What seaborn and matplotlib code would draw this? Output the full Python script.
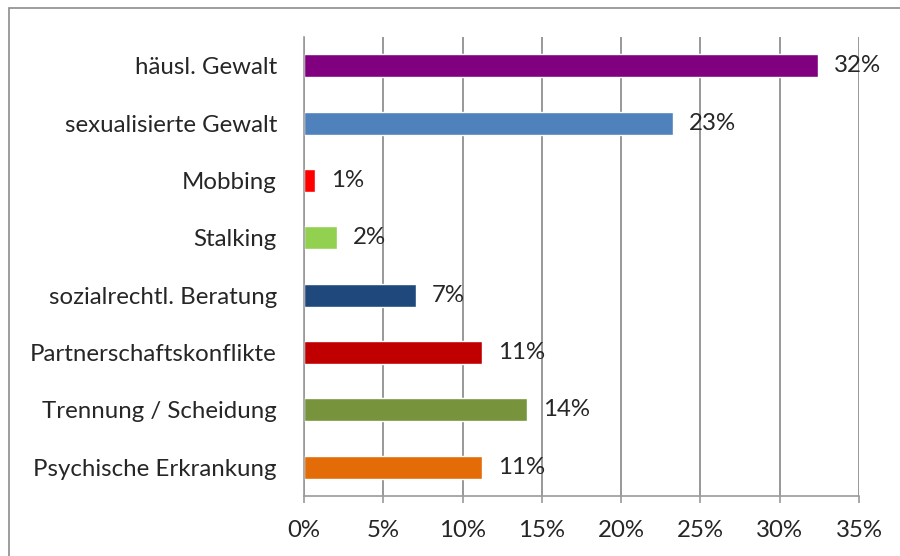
import pandas as pd
import matplotlib.pyplot as plt
import seaborn as sns
from matplotlib.patches import Rectangle
from matplotlib.ticker import PercentFormatter, MultipleLocator

sns.set_style("white")
plt.rcParams['font.family'] = ['Lato', 'DejaVu Sans']

## data ##
categories = ["häusl. Gewalt", "sexualisierte Gewalt", "Mobbing", "Stalking",
              "sozialrechtl. Beratung", "Partnerschaftskonflikte",
              "Trennung / Scheidung", "Psychische Erkrankung"]
values = [32.4, 23.25, 0.7, 2.06, 7.06, 11.23, 14.06, 11.23]
value_labels = ["32%", "23%", "1%", "2%", "7%", "11%", "14%", "11%"]
colors = ["#800080", "#4F81BD", "#FF0000", "#92D050",
          "#1F497D", "#C00000", "#77933C", "#E36C09"]

df = pd.DataFrame({"Kategorie": categories, "Anteil": values})

font_size = 17.3

## plot ##
fig = plt.figure(figsize=(9, 5.56), dpi=100)
ax = fig.add_axes([304/900, 1-496/556, 555/900, 459/556])

sns.barplot(data=df, y="Kategorie", x="Anteil", hue="Kategorie",
            palette=colors, width=0.4, saturation=1, legend=False, ax=ax)

ax.set_xlim(0, 35)
ax.set_ylim(len(categories)-0.5, -0.5)
ax.xaxis.set_major_locator(MultipleLocator(5))
ax.xaxis.set_major_formatter(PercentFormatter(decimals=0))
ax.set_xlabel("")
ax.set_ylabel("")
ax.grid(axis="x", color="#868686", linewidth=1.2)
ax.set_axisbelow(True)

for side in ["top", "right"]:
    ax.spines[side].set_visible(False)
for side in ["left", "bottom"]:
    ax.spines[side].set_color("#9a9a9a")
    ax.spines[side].set_linewidth(1.2)

# category ticks sit between the bars
ax.set_yticks(range(len(categories)))
ax.set_yticklabels(categories, fontsize=font_size)
ax.tick_params(axis="y", length=0, pad=19.5)
ax.set_yticks([i - 0.5 for i in range(len(categories)+1)], minor=True)
ax.tick_params(axis="y", which="minor", length=6, color="#9a9a9a", width=1.2)
ax.tick_params(axis="x", length=5, color="#9a9a9a", width=1.2,
               labelsize=font_size, pad=12, bottom=True)

for container, lab in zip(ax.containers, value_labels):
    ax.bar_label(container, labels=[lab], padding=11.5, fontsize=font_size)

fig.patches.append(Rectangle((9/900, -0.1), 1.0, 1-8/556+0.1, transform=fig.transFigure,
                             fill=False, edgecolor="#8c8c8c", linewidth=1.2))

plt.savefig("out.png", dpi=100)
